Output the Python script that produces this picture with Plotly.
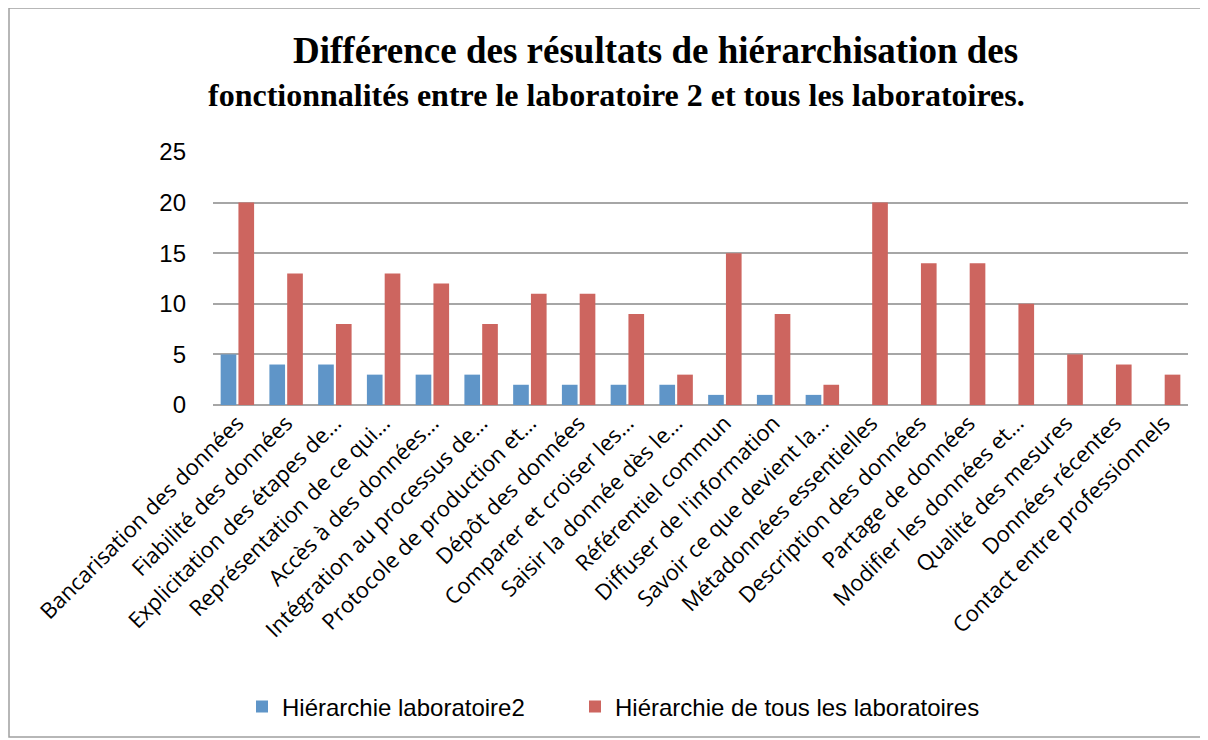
import plotly.graph_objects as go

categories = [
    "Bancarisation des données",
    "Fiabilité des données",
    "Explicitation des étapes de...",
    "Représentation de ce qui...",
    "Accès à des données...",
    "Intégration au processus de...",
    "Protocole de production et...",
    "Dépôt des données",
    "Comparer et croiser les...",
    "Saisir la donnée dès le...",
    "Référentiel commun",
    "Diffuser de l'information",
    "Savoir ce que devient la...",
    "Métadonnées essentielles",
    "Description des données",
    "Partage de données",
    "Modifier les données et...",
    "Qualité des mesures",
    "Données récentes",
    "Contact entre professionnels",
]
labo2 = [5, 4, 4, 3, 3, 3, 2, 2, 2, 2, 1, 1, 1, 0, 0, 0, 0, 0, 0, 0]
tous = [20, 13, 8, 13, 12, 8, 11, 11, 9, 3, 15, 9, 2, 20, 14, 14, 10, 5, 4, 3]
y_ticks = [0, 5, 10, 15, 20, 25]

OFF = 8  # page body margin
W, H = 1208 - OFF, 740 - OFF
# plot area in screen pixels: left 213, right 1188, top 152, bottom 405
L = 213 - OFF
R = W - (1188 - OFF)
T = 152 - OFF
B = H - (405 - OFF)
pw, ph = W - L - R, H - T - B

def px(x):
    return (x - OFF - L) / pw

def py(y):
    return (H - B - (y - OFF)) / ph

fig = go.Figure()
fig.add_trace(go.Bar(x=categories, y=labo2, name="Hiérarchie laboratoire2",
                     marker=dict(color="#5f95c8", line=dict(width=0)), legend="legend"))
fig.add_trace(go.Bar(x=categories, y=tous, name="Hiérarchie de tous les laboratoires",
                     marker=dict(color="#cd655f", line=dict(width=0)), legend="legend2"))

leg_font = dict(family="Liberation Sans", size=24, color="#000")
fig.update_layout(
    width=W, height=H,
    margin=dict(l=L, r=R, t=T, b=B, autoexpand=False),
    paper_bgcolor="white", plot_bgcolor="white",
    barmode="group", bargap=0.27, bargroupgap=0.12,
    showlegend=True,
    legend=dict(orientation="h", x=px(242), y=py(707), xanchor="left", yanchor="middle",
                font=leg_font, itemwidth=30, itemsizing="constant"),
    legend2=dict(orientation="h", x=px(575), y=py(707), xanchor="left", yanchor="middle",
                 font=leg_font, itemwidth=30, itemsizing="constant"),
    xaxis=dict(tickangle=-45, tickfont=dict(family="Open Sans", size=22, color="#000"),
               showgrid=False, showline=False, ticks="", automargin=False),
    yaxis=dict(range=[0, 25], tickvals=y_ticks, showgrid=True, gridcolor="#a6a6a6", gridwidth=1.5,
               tickfont=dict(family="Liberation Sans", size=24, color="#000"),
               zeroline=True, zerolinecolor="#a6a6a6", zerolinewidth=2,
               ticks="", ticklabelstandoff=26, automargin=False),
    annotations=[
        dict(text="<b>Différence des résultats de hiérarchisation des</b>", x=px(655), y=py(50),
             xref="paper", yref="paper", showarrow=False, xanchor="center", yanchor="middle",
             font=dict(family="Liberation Serif", size=37, color="#000")),
        dict(text="<b>fonctionnalités entre le laboratoire 2 et tous les laboratoires.</b>", x=px(616), y=py(95),
             xref="paper", yref="paper", showarrow=False, xanchor="center", yanchor="middle",
             font=dict(family="Liberation Serif", size=32, color="#000")),
    ],
    shapes=[
        dict(type="rect", xref="paper", yref="paper", x0=px(9), x1=px(1205), y0=py(737), y1=py(8),
             line=dict(color="#a0a0a0", width=1.5), fillcolor="rgba(0,0,0,0)", layer="below"),
    ],
)

fig.write_html("out.html")
